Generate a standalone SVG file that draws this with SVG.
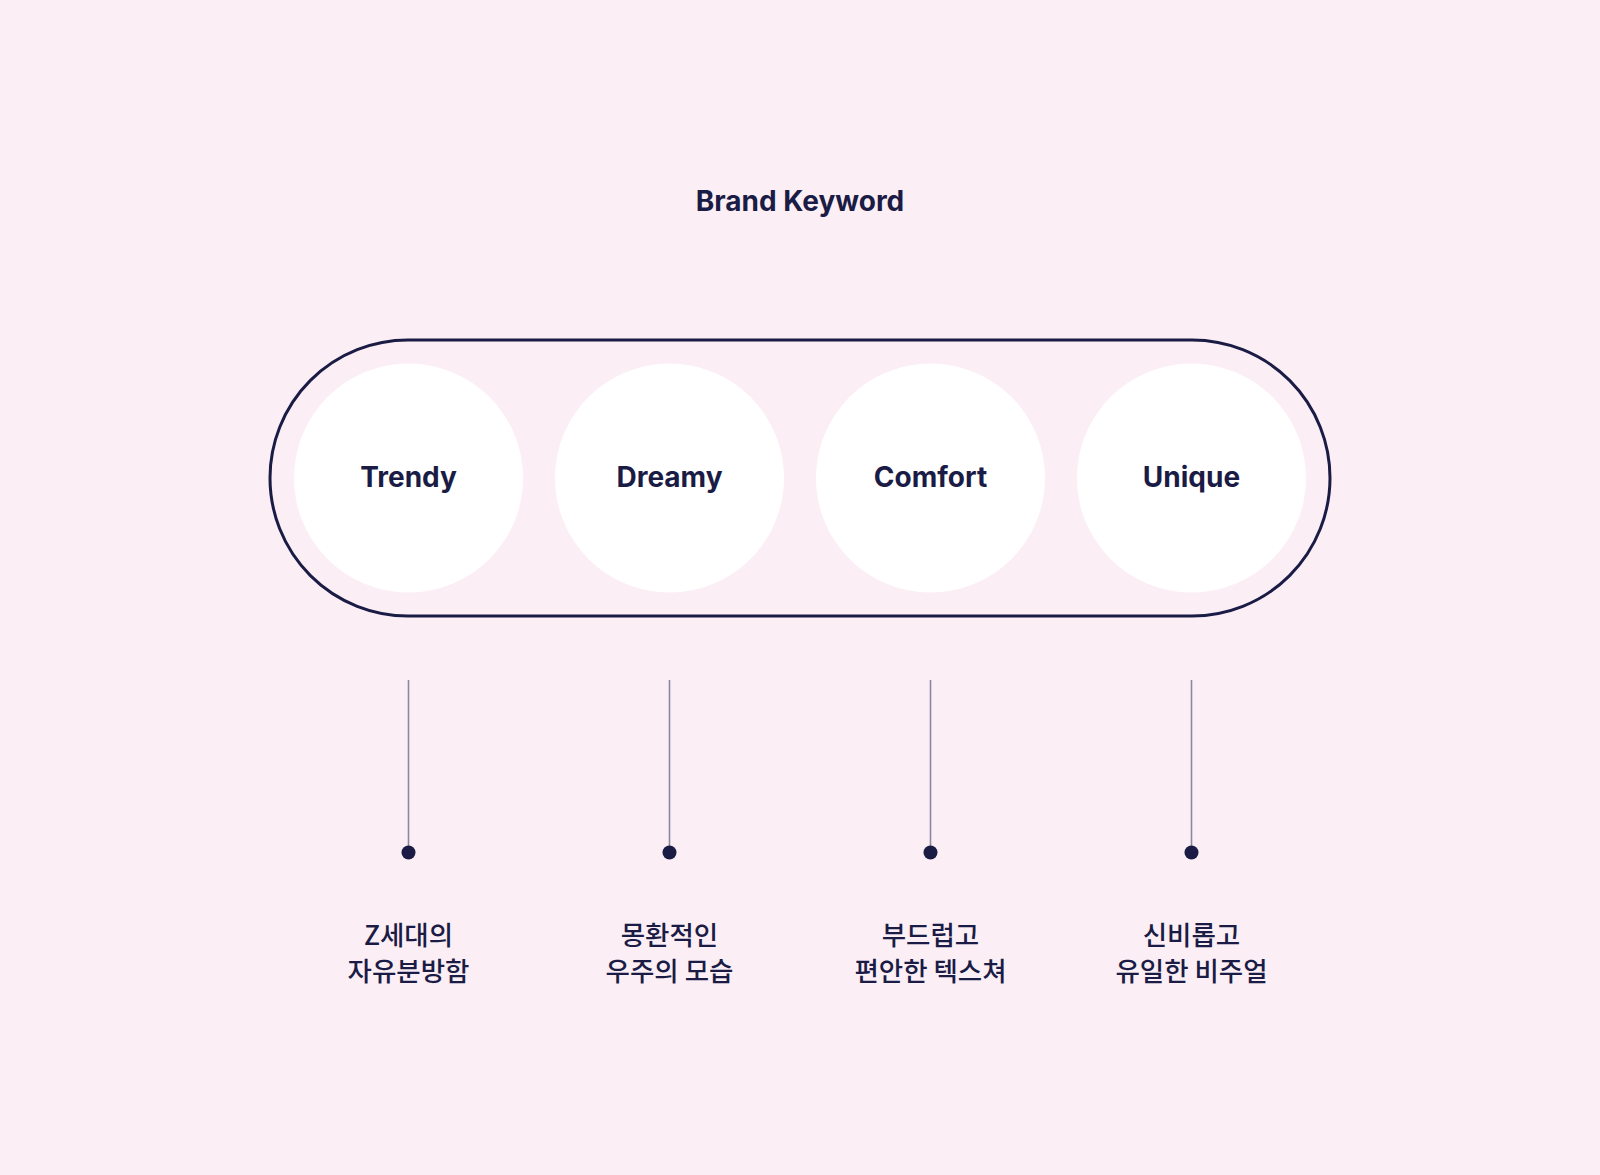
<svg xmlns="http://www.w3.org/2000/svg" width="1600" height="1175" viewBox="0 0 1600 1175">
<style>
.bg{fill:#fbeff5}
.title{font-family:"Inter","Lato","Noto Sans",sans-serif;font-weight:700;font-size:28px;fill:#1b1c45;text-anchor:middle}
.kw{font-family:"Inter","Lato","Noto Sans",sans-serif;font-weight:700;font-size:28px;fill:#1b1c45;text-anchor:middle}
.desc{font-family:"Noto Sans CJK KR","Noto Sans",sans-serif;font-weight:500;font-size:26.5px;fill:#1b1c45;text-anchor:middle}
.pill{fill:none;stroke:#1b1c45;stroke-width:3}
.circ{fill:#ffffff}
.line{stroke:#8a88a2;stroke-width:1.6}
.dot{fill:#1b1c45}
</style>
<rect class="bg" x="0" y="0" width="1600" height="1175"/>
<g id="title"><text class="title" x="800" y="211">Brand Keyword</text></g>
<g id="pill"><rect class="pill" x="270" y="340" width="1060" height="276" rx="138" ry="138"/></g>
<g id="node-trendy"><circle class="circ" cx="408.5" cy="478" r="114.5"/><text class="kw" x="408.5" y="487">Trendy</text></g>
<g id="node-dreamy"><circle class="circ" cx="669.5" cy="478" r="114.5"/><text class="kw" x="669.5" y="487">Dreamy</text></g>
<g id="node-comfort"><circle class="circ" cx="930.5" cy="478" r="114.5"/><text class="kw" x="930.5" y="487">Comfort</text></g>
<g id="node-unique"><circle class="circ" cx="1191.5" cy="478" r="114.5"/><text class="kw" x="1191.5" y="487">Unique</text></g>
<g id="connectors">
<line class="line" x1="408.5" y1="680" x2="408.5" y2="852"/>
<line class="line" x1="669.5" y1="680" x2="669.5" y2="852"/>
<line class="line" x1="930.5" y1="680" x2="930.5" y2="852"/>
<line class="line" x1="1191.5" y1="680" x2="1191.5" y2="852"/>
<circle class="dot" cx="408.5" cy="852.5" r="7"/>
<circle class="dot" cx="669.5" cy="852.5" r="7"/>
<circle class="dot" cx="930.5" cy="852.5" r="7"/>
<circle class="dot" cx="1191.5" cy="852.5" r="7"/>
</g>
<g id="desc-trendy"><text class="desc" x="408.5" y="945">Z세대의</text><text class="desc" x="408.5" y="981">자유분방함</text></g>
<g id="desc-dreamy"><text class="desc" x="669.5" y="945">몽환적인</text><text class="desc" x="669.5" y="981">우주의 모습</text></g>
<g id="desc-comfort"><text class="desc" x="930.5" y="945">부드럽고</text><text class="desc" x="930.5" y="981">편안한 텍스쳐</text></g>
<g id="desc-unique"><text class="desc" x="1191.5" y="945">신비롭고</text><text class="desc" x="1191.5" y="981">유일한 비주얼</text></g>
</svg>
